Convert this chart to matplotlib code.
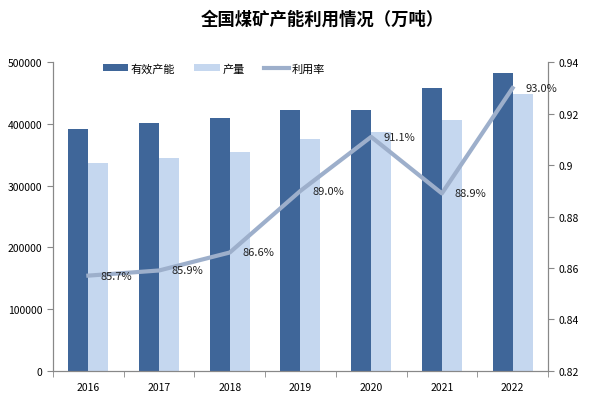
import matplotlib.pyplot as plt
import numpy as np
from matplotlib.ticker import FuncFormatter

plt.rcParams['font.family'] = ['Noto Sans CJK SC', 'DejaVu Sans']

years = ['2016', '2017', '2018', '2019', '2020', '2021', '2022']
capacity = [392000, 402000, 410000, 422000, 422000, 459000, 483000]
output = [337000, 345000, 355000, 376000, 387000, 407000, 449000]
rate = [0.857, 0.859, 0.866, 0.890, 0.911, 0.889, 0.930]
rate_labels = ['85.7%', '85.9%', '86.6%', '89.0%', '91.1%', '88.9%', '93.0%']

dark = '#3F6699'
light = '#C5D7EF'
line_c = '#9DAFCB'
axis_c = '#888888'

fig = plt.figure(figsize=(5.97, 4.02), dpi=100)
ax = fig.add_axes([0.0888, 0.0754, 0.829, 0.767])
ax2 = ax.twinx()

x = np.arange(len(years))
w = 0.283
b1 = ax.bar(x - w / 2, capacity, w, color=dark, label='有效产能', zorder=2)
b2 = ax.bar(x + w / 2, output, w, color=light, label='产量', zorder=2)
ln, = ax2.plot(x, rate, color=line_c, lw=3, label='利用率', zorder=3)

for xi, r, t in zip(x, rate, rate_labels):
    ax2.annotate(t, (xi, r), xytext=(9, 0), textcoords='offset points',
                 ha='left', va='center', fontsize=8, color='#222222')

ax.set_xlim(-0.5, len(years) - 0.5)
ax.set_ylim(0, 500000)
ax.set_yticks(np.arange(0, 500001, 100000))
ax2.set_ylim(0.82, 0.94)
ax2.set_yticks(np.arange(0.82, 0.9401, 0.02))
ax2.yaxis.set_major_formatter(FuncFormatter(lambda v, p: f'{round(v, 2):g}'))

ax.set_xticks(x)
ax.set_xticklabels(years)
ax.set_xticks(np.arange(-0.5, len(years)), minor=True)
ax.tick_params(axis='x', which='major', length=0, pad=8, labelsize=7.5)
ax.tick_params(axis='x', which='minor', length=4, color=axis_c)
ax.tick_params(axis='y', length=4, color=axis_c, labelsize=7.5)
ax2.tick_params(axis='y', length=4, color=axis_c, labelsize=7.5)

for a in (ax, ax2):
    a.spines['top'].set_visible(False)
    for s in ('left', 'right', 'bottom'):
        a.spines[s].set_color(axis_c)

fig.text(0.54, 0.95, '全国煤矿产能利用情况（万吨）', ha='center', va='center',
         fontsize=12.5, fontweight='bold')

ax.legend([b1, b2, ln], ['有效产能', '产量', '利用率'], loc='upper left',
          bbox_to_anchor=(0.08, 1.03), ncol=3, frameon=False, fontsize=8,
          handlelength=2.3, handleheight=0.6, columnspacing=1.7, handletextpad=0.25)

fig.savefig('out.png', dpi=100)
